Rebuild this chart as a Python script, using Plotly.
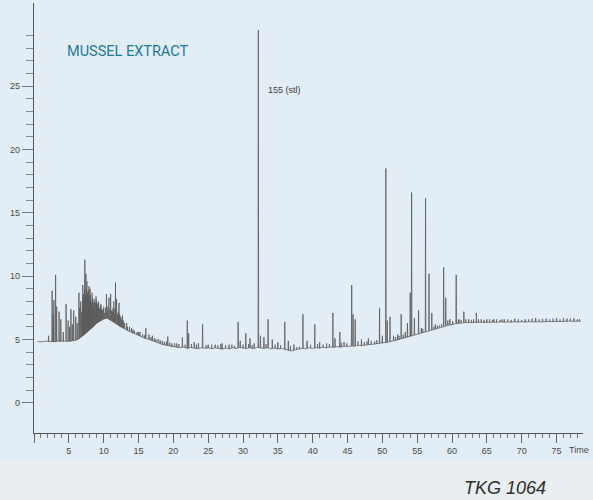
import numpy as np
import plotly.graph_objects as go

# --- Chromatogram data -------------------------------------------------------
# Detector baseline sampled every 0.5 min starting at 0.5 min
base_start = 0.5
base_step = 0.5
base_level = [
    4.85, 4.82, 4.87, 4.84, 4.86, 4.83, 4.88, 4.85, 4.87, 4.86, 4.90, 4.95,
    5.08, 5.30, 5.52, 5.80, 6.02, 6.30, 6.48, 6.62,
    6.70, 6.52, 6.35, 6.15, 5.98, 5.85, 5.70, 5.58, 5.45, 5.30,
    5.22, 5.08, 5.02, 4.90, 4.82, 4.72, 4.60, 4.55, 4.48, 4.42,
    4.40, 4.35, 4.42, 4.30, 4.38, 4.33, 4.28, 4.36, 4.30, 4.34,
    4.28, 4.35, 4.30, 4.25, 4.33, 4.28, 4.35, 4.30, 4.38, 4.32,
    4.30, 4.36, 4.28, 4.40, 4.33, 4.30, 4.36, 4.28, 4.33, 4.26,
    4.30, 4.22, 4.15, 4.10, 4.20, 4.25, 4.30, 4.28, 4.35, 4.30,
    4.36, 4.32, 4.40, 4.35, 4.42, 4.38, 4.45, 4.40, 4.48, 4.45,
    4.50, 4.48, 4.55, 4.52, 4.58, 4.60, 4.62, 4.65, 4.70, 4.72,
    4.78, 4.82, 4.88, 4.95, 5.02, 5.10, 5.18, 5.25, 5.35, 5.42,
    5.50, 5.58, 5.65, 5.75, 5.82, 5.92, 6.00, 6.08, 6.15, 6.20,
    6.25, 6.30, 6.32, 6.35, 6.33, 6.36, 6.34, 6.38, 6.35, 6.37,
    6.36, 6.38, 6.35, 6.40, 6.37, 6.39, 6.36, 6.40, 6.38, 6.41,
    6.38, 6.42, 6.40, 6.39, 6.43, 6.40, 6.42, 6.44, 6.41, 6.43,
    6.42, 6.45, 6.43, 6.46, 6.44, 6.47, 6.45,
]

# Resolved peaks: retention time (min) and apex response
peak_time = [
    2.1, 2.6, 2.75, 2.85, 3.1, 3.25, 3.6, 3.85, 4.2, 4.6, 4.9, 5.1, 5.3, 5.5,
    5.7, 6.0, 6.2, 6.45, 6.7, 6.85, 7.0, 7.15, 7.3, 7.45, 7.55, 7.65, 7.8,
    7.9, 8.0, 8.1, 8.25, 8.4, 8.55, 8.7, 8.9, 9.05, 9.2, 9.35, 9.55, 9.7,
    9.9, 10.1, 10.4, 10.6, 10.75, 11.0, 11.15, 11.35, 11.55, 11.7, 11.85,
    12.0, 12.2, 12.45, 12.7, 13.0, 13.3, 13.7, 14.0, 14.4, 14.8, 15.2, 15.6,
    16.05, 16.5, 17.0, 17.5, 18.1, 18.7, 19.2, 19.8, 20.5, 21.3, 22.0, 22.2,
    23.0, 23.6, 24.2, 25.0, 26.0, 27.0, 28.0, 29.3, 29.6, 30.4, 31.0, 31.6,
    32.2, 32.5, 33.0, 33.6, 34.2, 35.0, 36.0, 36.5, 37.3, 38.6, 39.2, 40.3,
    41.0, 42.9, 43.2, 43.9, 44.5, 45.6, 45.8, 46.1, 47.0, 48.0, 49.6, 50.0,
    50.5, 50.7, 51.1, 51.6, 52.2, 52.7, 53.3, 53.6, 54.0, 54.2, 54.6, 55.2,
    55.6, 56.2, 56.7, 57.1, 57.6, 58.2, 58.8, 59.1, 59.4, 59.7, 60.6, 61.0,
    61.7, 62.4, 63.5, 64.2, 65.0, 66.0, 67.5, 69.0, 70.5, 72.0, 73.5, 75.0,
    76.5, 78.0,
]
peak_height = [
    5.3, 8.85, 7.0, 8.1, 10.1, 7.6, 7.2, 6.6, 5.6, 7.8, 6.5, 6.0, 7.4, 6.2,
    7.3, 6.8, 6.3, 8.7, 8.0, 7.2, 9.3, 8.2, 11.3, 10.2, 8.9, 8.7, 8.0,
    9.2, 8.4, 8.5, 7.9, 8.3, 7.6, 8.0, 8.4, 7.8, 7.9, 7.4, 7.7, 7.3,
    7.3, 7.1, 8.6, 7.6, 8.3, 8.6, 7.3, 7.5, 7.0, 9.5, 8.2,
    7.0, 7.9, 6.8, 6.9, 6.3, 6.3, 6.0, 5.9, 5.7, 5.6, 5.6, 5.4,
    5.9, 5.4, 5.3, 5.0, 4.95, 4.8, 5.25, 4.7, 4.7, 5.15, 6.5, 5.5,
    4.8, 4.7, 6.2, 4.6, 4.6, 4.7, 4.6, 6.4, 4.9, 5.5, 5.1, 4.7,
    29.4, 5.3, 5.2, 6.6, 5.0, 4.8, 6.4, 4.9, 4.6, 7.0, 4.9, 6.2,
    4.8, 7.1, 5.1, 5.6, 4.8, 9.3, 7.0, 6.6, 5.0, 5.1, 7.5, 5.3,
    18.5, 6.5, 6.8, 5.3, 5.4, 7.0, 5.6, 6.3, 8.7, 16.6, 6.7, 7.3,
    5.9, 16.15, 10.2, 7.1, 6.2, 6.1, 10.7, 8.3, 6.5, 6.6, 10.1, 6.6,
    7.2, 6.6, 7.1, 6.6, 6.6, 6.6, 6.6, 6.65, 6.6, 6.7, 6.65, 6.7,
    6.65, 6.6,
]

# Unresolved cluster and baseline noise: retention time (min) and apex response
minor_time = [
    6.55, 6.95, 7.1, 7.25, 7.38, 7.6, 7.72, 7.85, 7.95, 8.05, 8.18, 8.33,
    8.48, 8.62, 8.8, 8.98, 9.12, 9.28, 9.45, 9.62, 9.8, 10.0, 10.25, 10.5,
    10.9, 11.25, 11.45, 11.62, 12.1, 12.3, 12.55, 12.85,
    13.4, 14.2, 15.0, 15.9, 16.8, 17.3, 17.8, 18.4, 19.0, 19.5, 20.2, 20.8,
    21.7, 22.6, 23.3, 24.7, 25.5, 26.4, 26.8, 27.5, 28.4, 28.8, 30.0, 30.8,
    31.3, 33.3, 34.6, 35.4, 36.8, 37.7, 38.1, 39.7, 40.7, 41.5, 42.0, 42.4,
    44.1, 44.9, 46.5, 47.4, 47.8, 48.4, 48.9, 49.2, 51.9, 52.4, 53.0, 55.8,
    57.4, 57.9, 58.5, 60.1, 60.9, 61.3, 62.0, 62.8, 63.1, 63.8, 64.6, 65.4,
    65.8, 66.4, 66.9, 67.2, 68.0, 68.5, 69.5, 70.0, 71.0, 71.5, 72.5, 73.0,
    74.0, 74.5, 75.5, 76.0, 77.0, 77.5, 78.3,
]
minor_height = [
    7.5, 8.0, 8.6, 9.0, 8.4, 9.6, 8.5, 8.9, 8.0, 9.0, 8.0, 8.7,
    7.9, 8.2, 7.9, 8.1, 7.6, 8.0, 7.5, 7.8, 7.4, 7.6, 7.5, 7.3,
    7.4, 7.2, 8.0, 7.4, 7.2, 7.0, 6.6, 6.5,
    6.0, 5.8, 5.6, 5.35, 5.2, 5.1, 5.05, 4.9, 4.85, 4.75, 4.7, 4.65,
    4.6, 4.65, 4.6, 4.55, 4.6, 4.55, 4.65, 4.55, 4.6, 4.5, 4.6, 4.65,
    4.55, 4.65, 4.6, 4.55, 4.5, 4.4, 4.45, 4.6, 4.65, 4.6, 4.7, 4.65,
    4.75, 4.7, 4.85, 4.8, 4.85, 4.9, 4.85, 4.95, 5.2, 5.3, 5.4, 5.85,
    6.0, 6.1, 6.2, 6.45, 6.55, 6.55, 6.6, 6.55, 6.6, 6.6, 6.55, 6.6,
    6.55, 6.6, 6.55, 6.6, 6.6, 6.55, 6.6, 6.55, 6.6, 6.65, 6.6, 6.65,
    6.6, 6.65, 6.6, 6.7, 6.65, 6.7, 6.6,
]

y_major = [0, 5, 10, 15, 20, 25]
y_minor = list(range(0, 30))
x_major = [5, 10, 15, 20, 25, 30, 35, 40, 45, 50, 55, 60, 65, 70, 75]

# --- Build figure ------------------------------------------------------------
base_time = np.array([base_start + base_step * i for i in range(len(base_level))])


def spikes(times, heights, half_width):
    """Narrow triangular peaks standing on the baseline."""
    xs, ys = [], []
    for t, h in zip(times, heights):
        foot = float(np.interp(t, base_time, base_level))
        xs += [t - half_width, t, t + half_width, None]
        ys += [foot, h, foot, None]
    return xs, ys


fig = go.Figure()
fig.add_trace(go.Scatter(
    x0=base_start, dx=base_step, y=base_level, mode="lines",
    line=dict(color="#686868", width=0.8), hoverinfo="skip",
))
mx, my = spikes(minor_time, minor_height, 0.03)
fig.add_trace(go.Scatter(
    x=mx, y=my, mode="lines",
    line=dict(color="#5a5a5a", width=0.7), hoverinfo="skip",
))
px, py = spikes(peak_time, peak_height, 0.04)
fig.add_trace(go.Scatter(
    x=px, y=py, mode="lines",
    line=dict(color="#5a5a5a", width=0.8), hoverinfo="skip",
))

bg = "#e3edf5"
fig.update_layout(
    width=593, height=500,
    margin=dict(l=34, r=10, t=3, b=67, pad=0),
    paper_bgcolor=bg, plot_bgcolor=bg,
    showlegend=False,
    font=dict(family="Liberation Sans, Arial, sans-serif", size=9, color="#4a4a4a"),
)

fig.update_xaxes(
    range=[0, 78.8], showgrid=False, zeroline=False,
    showline=True, linecolor="#555555", linewidth=1,
    tickmode="array", tickvals=[0] + x_major, ticktext=[""] + [str(v) for v in x_major],
    ticks="outside", ticklen=9, tickwidth=1, tickcolor="#666666",
    minor=dict(tickmode="linear", tick0=0, dtick=1, ticks="outside",
               ticklen=4, tickwidth=1, tickcolor="#777777"),
    tickfont=dict(size=9, color="#4a4a4a"),
)
fig.update_yaxes(
    range=[-2.37, 31.55], showgrid=False, zeroline=False,
    showline=True, linecolor="#555555", linewidth=1.2,
    tickmode="array", tickvals=y_major, ticktext=[str(v) for v in y_major],
    ticks="outside", ticklen=11, tickwidth=1, tickcolor="#777777",
    minor=dict(tickmode="array", tickvals=y_minor, ticks="outside",
               ticklen=7, tickwidth=1, tickcolor="#888888"),
    tickfont=dict(size=9, color="#4a4a4a"),
)

# lighter footer band
fig.add_shape(type="rect", xref="paper", yref="paper",
              x0=-34 / 549, x1=559 / 549, y0=-28 / 430, y1=-67 / 430,
              fillcolor="#e9eef1", line=dict(width=0), layer="below")

fig.add_annotation(x=(127 - 34) / 549, y=(433 - 51) / 430, xref="paper", yref="paper",
                   xanchor="center", yanchor="middle", showarrow=False,
                   text="MUSSEL EXTRACT",
                   font=dict(family="Roboto, sans-serif", size=14.5, color="#1c7aa6"))
fig.add_annotation(x=32.2, y=24.7, xref="x", yref="y", xanchor="left", xshift=8,
                   showarrow=False, text="155 (stl)",
                   font=dict(size=9, color="#3a3a3a"))
fig.add_annotation(x=(567 - 34) / 549, y=-17 / 430, xref="paper", yref="paper",
                   xanchor="left", yanchor="middle", showarrow=False, text="Time",
                   font=dict(size=9, color="#4a4a4a"))
fig.add_annotation(x=(505 - 34) / 549, y=(433 - 488) / 430, xref="paper", yref="paper",
                   xanchor="center", yanchor="middle", showarrow=False,
                   text="<i>TKG 1064</i>",
                   font=dict(size=18, color="#2e2e2e"))

fig.write_html("out.html")
